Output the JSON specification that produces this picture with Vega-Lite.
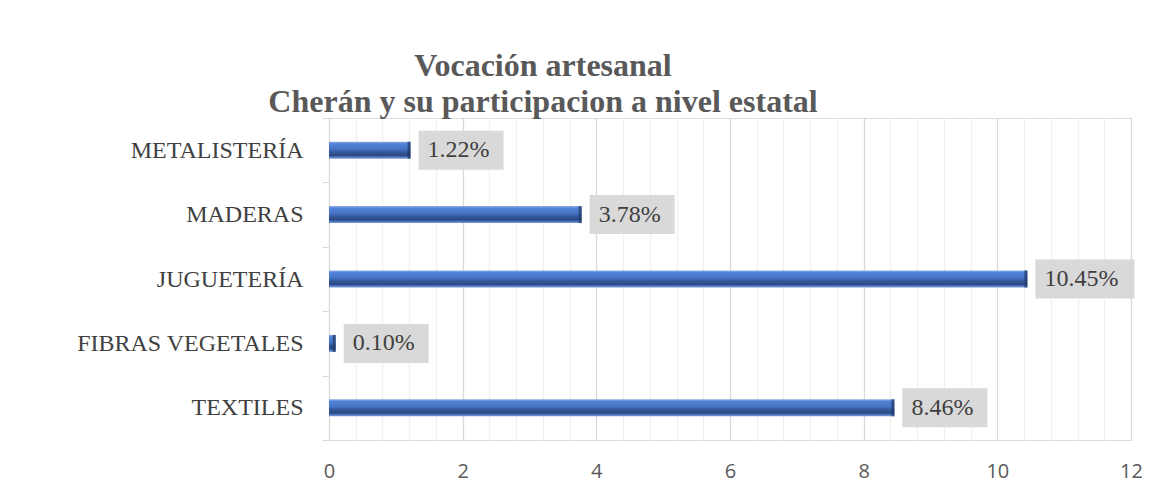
{
  "$schema": "https://vega.github.io/schema/vega-lite/v6.json",
  "width": 802,
  "height": 322,
  "autosize": {"type": "none"},
  "padding": {"left": 329, "top": 118, "right": 32, "bottom": 47},
  "background": "white",
  "title": {
    "text": ["Vocación artesanal", "Cherán y su participacion a nivel estatal"],
    "font": "Liberation Serif",
    "fontSize": 32,
    "fontWeight": "bold",
    "color": "#595959",
    "lineHeight": 36,
    "anchor": "middle",
    "dx": -187,
    "offset": -13
  },
  "data": {
    "values": [
      {"categoria": "METALISTERÍA", "valor": 1.22, "etiqueta": "1.22%"},
      {"categoria": "MADERAS", "valor": 3.78, "etiqueta": "3.78%"},
      {"categoria": "JUGUETERÍA", "valor": 10.45, "etiqueta": "10.45%"},
      {"categoria": "FIBRAS VEGETALES", "valor": 0.10, "etiqueta": "0.10%"},
      {"categoria": "TEXTILES", "valor": 8.46, "etiqueta": "8.46%"}
    ]
  },
  "encoding": {
    "y": {
      "field": "categoria",
      "type": "nominal",
      "sort": ["METALISTERÍA", "MADERAS", "JUGUETERÍA", "FIBRAS VEGETALES", "TEXTILES"],
      "scale": {"paddingInner": 0, "paddingOuter": 0},
      "axis": {
        "title": null,
        "grid": false,
        "domainColor": "#D9D9D9",
        "domainWidth": 1,
        "tickColor": "#D9D9D9",
        "tickSize": 7,
        "tickBand": "extent",
        "labelFont": "Liberation Serif",
        "labelFontSize": 24,
        "labelColor": "#404040",
        "labelPadding": 19,
        "labelLimit": 0
      }
    },
    "x": {
      "field": "valor",
      "type": "quantitative",
      "scale": {"domain": [0, 12], "nice": false},
      "axis": {
        "title": null,
        "values": [0, 0.4, 0.8, 1.2, 1.6, 2, 2.4, 2.8, 3.2, 3.6, 4, 4.4, 4.8, 5.2, 5.6, 6, 6.4, 6.8, 7.2, 7.6, 8, 8.4, 8.8, 9.2, 9.6, 10, 10.4, 10.8, 11.2, 11.6, 12],
        "grid": true,
        "gridColor": {"condition": {"test": "datum.value % 2 === 0", "value": "#D9D9D9"}, "value": "#F0F0F0"},
        "gridWidth": 1.3,
        "ticks": false,
        "domain": false,
        "labelExpr": "datum.value % 2 === 0 ? format(datum.value, 'd') : ''",
        "labelOverlap": false,
        "labelFlush": false,
        "labelFont": "Open Sans",
        "labelFontSize": 20,
        "labelColor": "#595959",
        "labelPadding": 21
      }
    }
  },
  "layer": [
    {
      "mark": {
        "type": "bar",
        "size": 17,
        "color": {
          "gradient": "linear",
          "x1": 0, "y1": 0, "x2": 0, "y2": 1,
          "stops": [
            {"offset": 0, "color": "#8eaee6"},
            {"offset": 0.12, "color": "#5283d6"},
            {"offset": 0.45, "color": "#4472c4"},
            {"offset": 0.6, "color": "#34589a"},
            {"offset": 0.82, "color": "#2a4a85"},
            {"offset": 0.92, "color": "#5a80c8"},
            {"offset": 1, "color": "#7a9bd8"}
          ]
        }
      }
    },
    {
      "mark": {"type": "tick", "orient": "vertical", "thickness": 3, "size": 17, "color": "#1f3864", "xOffset": -1.5}
    },
    {
      "transform": [{"filter": "datum.valor < 10"}],
      "mark": {"type": "bar", "size": 39, "color": "#D9D9D9", "xOffset": 8, "x2Offset": 93},
      "encoding": {"x2": {"field": "valor"}}
    },
    {
      "transform": [{"filter": "datum.valor >= 10"}],
      "mark": {"type": "bar", "size": 39, "color": "#D9D9D9", "xOffset": 8, "x2Offset": 107},
      "encoding": {"x2": {"field": "valor"}}
    },
    {
      "mark": {"type": "text", "align": "left", "baseline": "middle", "dx": 17, "font": "Liberation Serif", "fontSize": 24, "color": "#404040"},
      "encoding": {"text": {"field": "etiqueta"}}
    }
  ]
}
